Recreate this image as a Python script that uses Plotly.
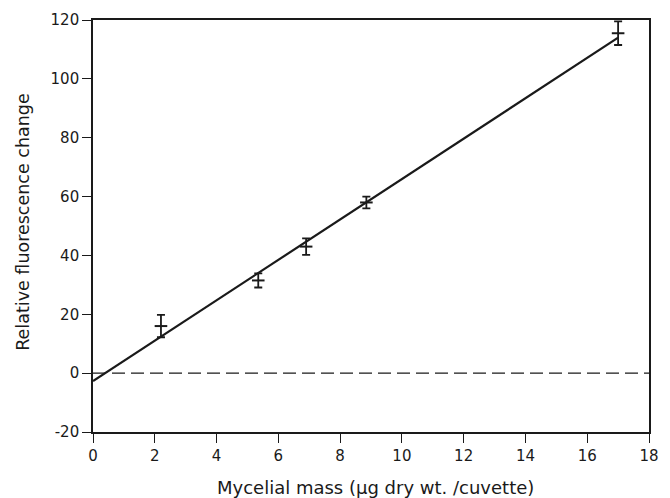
import plotly.graph_objects as go

# Data
mass = [2.2, 5.35, 6.9, 8.85, 17.0]
fluor = [16.0, 31.5, 43.0, 58.0, 115.5]
err = [3.8, 2.4, 2.8, 2.0, 4.0]

fit_x = [0.0, 17.0]
fit_y = [-2.7, 114.0]

zero_x = [0.0, 18.0]
zero_y = [0.0, 0.0]

x_ticks = [0, 2, 4, 6, 8, 10, 12, 14, 16, 18]
y_ticks = [-20, 0, 20, 40, 60, 80, 100, 120]

ink = "#1a1a1a"
font_family = "DejaVu Sans, Verdana, sans-serif"

fig = go.Figure()

fig.add_trace(go.Scatter(
    x=zero_x, y=zero_y, mode="lines",
    line=dict(color=ink, width=1.2, dash="13px,6px"),
    hoverinfo="skip", showlegend=False,
))

fig.add_trace(go.Scatter(
    x=fit_x, y=fit_y, mode="lines",
    line=dict(color=ink, width=2.2),
    showlegend=False,
))

fig.add_trace(go.Scatter(
    x=mass, y=fluor, mode="markers",
    marker=dict(symbol="line-ew", size=9, line=dict(color=ink, width=2)),
    error_y=dict(type="data", array=err, visible=True, color=ink,
                 thickness=1.8, width=4),
    showlegend=False,
))

W, H = 670, 498
L, R, T, B = 93, 11, 19, 66
plot_w = W - L - R
plot_h = H - T - B

fig.update_layout(
    width=W, height=H,
    margin=dict(l=L, r=R, t=T, b=B),
    paper_bgcolor="white", plot_bgcolor="white",
    font=dict(family=font_family, size=15, color=ink),
    xaxis=dict(
        range=[0, 18], tickvals=x_ticks, ticktext=[str(v) for v in x_ticks],
        showgrid=False, zeroline=False,
        showline=True, linecolor=ink, linewidth=1.6, mirror=True,
        ticks="outside", ticklen=9, tickwidth=1.4, tickcolor=ink,
        tickfont=dict(size=15, color=ink),
    ),
    yaxis=dict(
        range=[-20, 120], tickvals=y_ticks, ticktext=[str(v) for v in y_ticks],
        showgrid=False, zeroline=False,
        showline=True, linecolor=ink, linewidth=1.6, mirror=True,
        ticks="outside", ticklen=9, tickwidth=1.4, tickcolor=ink,
        tickfont=dict(size=15, color=ink),
    ),
    annotations=[
        dict(text="Mycelial mass (\u00b5g dry wt. /cuvette)", xref="paper", yref="paper",
             x=(381 - L) / plot_w, y=-(488 - (H - B)) / plot_h,
             xanchor="center", yanchor="middle",
             showarrow=False, font=dict(size=18, color=ink)),
        dict(text="Relative fluorescence change", xref="paper", yref="paper",
             x=-(L - 21) / plot_w, y=(H - B - 222) / plot_h,
             xanchor="center", yanchor="middle", textangle=-90,
             showarrow=False, font=dict(size=17.5, color=ink)),
    ],
)

fig.write_html(
    "out.html",
    config={"displayModeBar": False},
    post_script="document.body.style.margin='0';document.body.style.overflow='hidden';",
)
